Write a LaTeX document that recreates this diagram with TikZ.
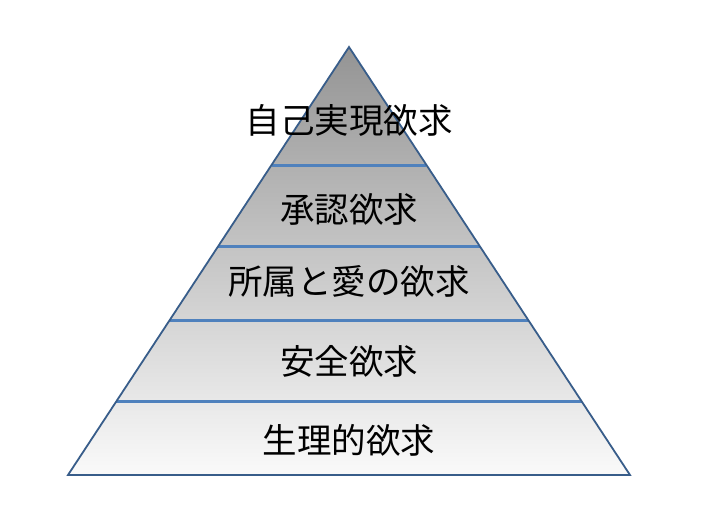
\documentclass[tikz,border=0pt]{standalone}
\usepackage{fontspec}
\newfontfamily\jpfont{Noto Sans CJK JP}
\usetikzlibrary{calc,positioning}
\definecolor{rim}{HTML}{385D8A}
\definecolor{band}{HTML}{4F81BD}
\tikzstyle{level}=[font=\jpfont\fontsize{34.5}{38}\selectfont,inner sep=0pt]
\tikzstyle{divider}=[draw=band,line width=3pt]

\begin{document}
\begin{tikzpicture}[x=1pt,y=-1pt]
            \useasboundingbox (0,0) rectangle (702,528);

            % PYRAMID
            \coordinate (top) at (349,47);
            \coordinate (bl) at (68,475);
            \coordinate (br) at (630,475);

            \shade[top color=black!42,bottom color=black!2] (top) -- (bl) -- (br) -- cycle;

            % BANDS
            \coordinate (a1) at ($(top)!0.2757!(bl)$);
            \coordinate (b1) at ($(top)!0.2757!(br)$);
            \coordinate (a2) at ($(top)!0.465!(bl)$);
            \coordinate (b2) at ($(top)!0.465!(br)$);
            \coordinate (a3) at ($(top)!0.640!(bl)$);
            \coordinate (b3) at ($(top)!0.640!(br)$);
            \coordinate (a4) at ($(top)!0.829!(bl)$);
            \coordinate (b4) at ($(top)!0.829!(br)$);

            \path[divider] (a1) -- (b1);
            \path[divider] (a2) -- (b2);
            \path[divider] (a3) -- (b3);
            \path[divider] (a4) -- (b4);

            \draw[rim,line width=1.8pt,line join=miter] (top) -- (bl) -- (br) -- cycle;

            % LABELS
            \node[level] (l5) at (349,120) {自己実現欲求};
            \node[level] (l4) at (349,209) {承認欲求};
            \node[level] (l3) at (349,281) {所属と愛の欲求};
            \node[level] (l2) at (349,361) {安全欲求};
            \node[level] (l1) at (349,440) {生理的欲求};

        \end{tikzpicture}
\end{document}
